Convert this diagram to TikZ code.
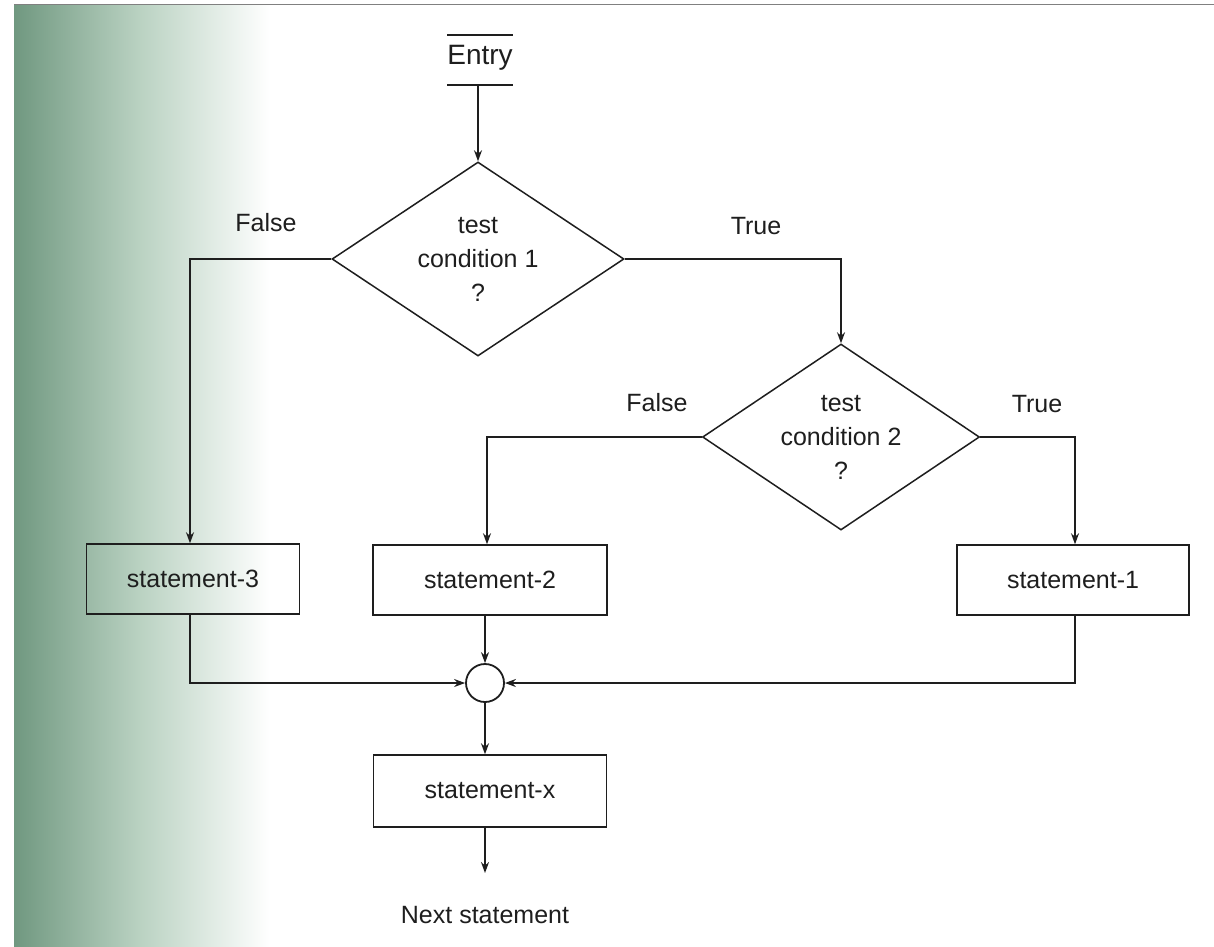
\documentclass[tikz,border=0pt]{standalone}
\usepackage{fontspec}
\setmainfont{Liberation Sans}
\usetikzlibrary{shapes.geometric,arrows.meta}
\definecolor{scangreen}{RGB}{112,152,128}
\definecolor{scanmid}{RGB}{186,210,194}
\definecolor{ink}{RGB}{30,30,30}
\begin{document}
\begin{tikzpicture}[x=1pt,y=-1pt,
  every node/.style={font=\fontsize{25}{34}\selectfont, text=ink},
  ln/.style={draw=ink, line width=1.5pt},
  arr/.style={ln, -{Stealth[length=11pt,width=8pt]}},
  stbox/.style={draw=ink, line width=1.5pt, minimum width=232pt, minimum height=70pt, inner sep=0pt},
  dec/.style={diamond, draw=ink, line width=1.5pt, align=center, inner sep=0pt, aspect=1.5},
  lbl/.style={inner sep=0pt}]
\useasboundingbox (0,0) rectangle (1214,946);
\fill[white] (0,0) rectangle (1214,946);
% scanned page tint
\shade[left color=scangreen, right color=scanmid] (14,5) rectangle (140,946);
\shade[left color=scanmid, right color=white] (140,5) rectangle (270,946);
\draw[gray, line width=1pt] (14,4) -- (1214,4);
% entry
\node[lbl, font=\fontsize{28}{34}\selectfont] (entry) at (480,58) {Entry};
\draw[ln] (447,35) -- (513,35);
\draw[ln] (447,85) -- (513,85);
\coordinate (entryb) at (478,85);
% decisions
\node[dec, minimum width=292pt, minimum height=194pt] (d1) at (478,259) {test\\condition 1\\?};
\node[dec, minimum width=277pt, minimum height=186pt] (d2) at (841,437) {test\\condition 2\\?};
% statements
\node[stbox, minimum width=213pt] (s3) at (193,579) {statement-3};
\node[stbox, minimum width=234pt] (s2) at (490,580) {statement-2};
\node[stbox] (s1) at (1073,580) {statement-1};
\node[circle, draw=ink, line width=1.8pt, minimum size=38pt, inner sep=0pt, fill=white] (j) at (485,683) {};
\node[stbox, minimum width=233pt, minimum height=72pt] (sx) at (490,791) {statement-x};
\node[lbl] (next) at (485,915) {Next statement};
% labels
\node[lbl] (f1) at (266,223) {False};
\node[lbl] (t1) at (756,226) {True};
\node[lbl] (f2) at (657,403) {False};
\node[lbl] (t2) at (1037,404) {True};
% connectors
\draw[arr] (entryb) -- (d1.north);
\draw[arr] (d1.west) -| (s3.north -| 190,0);
\draw[arr] (d1.east) -| (d2.north);
\draw[arr] (d2.west) -| (s2.north -| 487,0);
\draw[arr] (d2.east) -| (s1.north -| 1075,0);
\draw[arr] (s2.south -| j.north) -- (j.north);
\draw[arr] (s3.south -| 190,0) |- (j.west);
\draw[arr] (s1.south -| 1075,0) |- (j.east);
\draw[arr] (j.south) -- (j.south |- sx.north);
\coordinate (nx) at (485,873);
\draw[arr] (sx.south -| nx) -- (nx);
\end{tikzpicture}
\end{document}
